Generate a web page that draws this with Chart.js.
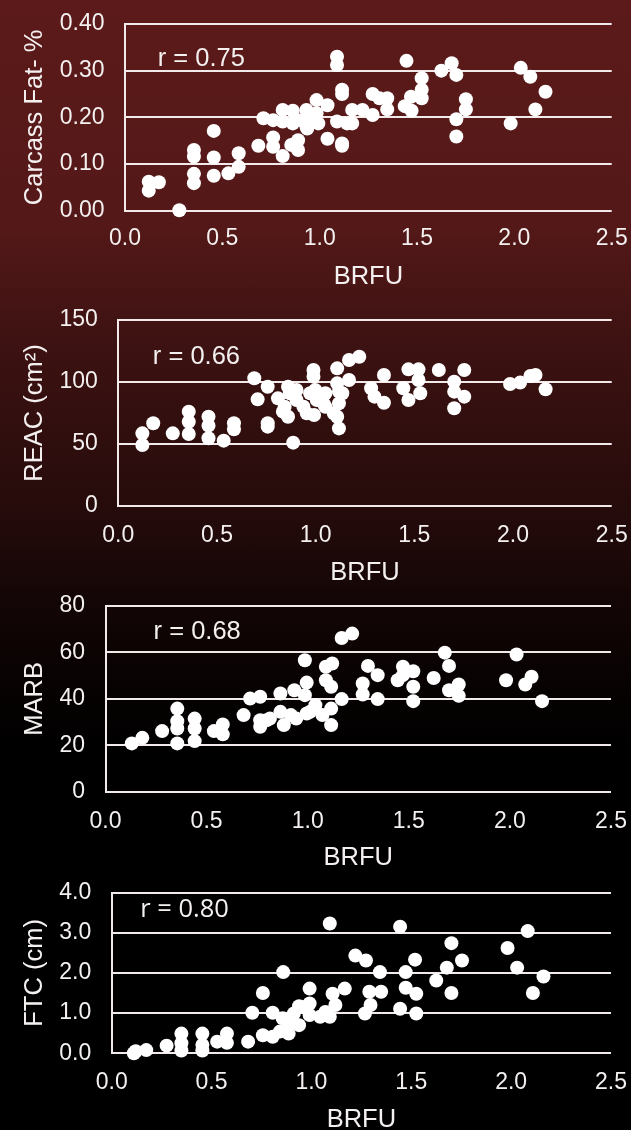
<!DOCTYPE html>
<html>
<head>
<meta charset="utf-8">
<script src="https://cdn.jsdelivr.net/npm/chart.js@4/dist/chart.umd.min.js"></script>
<style>
html,body{margin:0;padding:0;width:631px;height:1130px;overflow:hidden;}
body{position:relative;background:linear-gradient(to bottom,#5c1a1a 0%,#541818 20%,#3e1212 30%,#260b0b 45%,#140606 53%,#050101 62%,#000 67%,#000 100%);}
canvas{position:absolute;left:0;}
</style>
</head>
<body>
<canvas id="c1"></canvas>
<canvas id="c2"></canvas>
<canvas id="c3"></canvas>
<canvas id="c4"></canvas>
<script>
// ---------- DATA ----------
const xTickValues = [0, 0.5, 1.0, 1.5, 2.0, 2.5];

// Panel 1: Carcass Fat
const brfuFat = [0.122,0.174,0.122,0.279,0.354,0.354,0.354,0.354,0.456,0.456,
  0.456,0.531,0.584,0.584,0.685,0.711,0.761,0.761,0.761,0.810,
  0.810,0.810,0.862,0.854,0.889,0.889,0.862,0.932,0.932,0.941,
  0.984,0.984,0.993,1.040,1.040,1.089,1.089,1.115,1.115,1.089,
  1.115,1.115,1.141,1.167,1.167,1.220,1.272,1.272,1.307,1.347,
  1.347,1.446,1.437,1.469,1.472,1.524,1.524,1.524,1.625,1.678,
  1.702,1.702,1.702,1.751,1.751,1.981,2.033,2.082,2.108,2.160,
  0.906,0.958,0.936];
const carcassFat = [0.062,0.061,0.043,0.001,0.130,0.116,0.079,0.059,0.171,0.114,
  0.075,0.080,0.123,0.094,0.139,0.198,0.194,0.157,0.137,0.216,
  0.191,0.117,0.214,0.141,0.151,0.130,0.187,0.216,0.180,0.198,
  0.237,0.209,0.187,0.226,0.154,0.330,0.312,0.259,0.250,0.191,
  0.144,0.139,0.187,0.216,0.187,0.216,0.250,0.205,0.241,0.241,
  0.217,0.321,0.224,0.244,0.214,0.284,0.259,0.241,0.300,0.316,
  0.291,0.196,0.159,0.239,0.217,0.187,0.306,0.287,0.217,0.255,
  0.194,0.205,0.176];

// Panel 2: REAC
const brfuReac = [0.122,0.122,0.177,0.276,0.357,0.357,0.357,0.457,0.457,0.457,
  0.534,0.586,0.586,0.689,0.706,0.757,0.757,0.757,0.809,0.860,
  0.869,0.834,0.860,0.886,0.903,0.938,0.955,0.989,0.989,0.998,
  1.006,0.992,1.049,1.049,1.092,1.109,1.109,1.118,1.109,1.118,
  1.169,1.221,1.169,1.281,1.298,1.346,1.346,1.444,1.470,1.470,
  1.521,1.521,1.530,1.624,1.702,1.702,1.702,1.753,1.753,1.985,
  2.036,2.088,2.114,2.165,0.903,0.972,1.040,0.843,1.135,1.118];
const reac = [49.2,58.6,66.7,58.6,76.1,68.0,58.1,72.0,64.8,54.6,
  52.7,66.7,61.8,103.0,86.0,96.2,66.7,64.0,86.8,96.2,
  90.9,76.1,72.0,51.1,85.5,80.1,74.7,109.7,104.3,93.5,
  85.5,73.4,90.9,80.1,74.7,111.0,98.9,82.8,72.0,62.6,
  117.7,120.4,101.6,94.9,88.2,105.6,83.3,94.9,110.2,85.5,
  110.2,101.6,90.9,109.7,100.3,92.2,78.8,109.7,88.2,98.4,
  99.5,104.8,105.6,94.1,93.5,90.9,82.8,80.1,90.9,92.2];

// Panel 3: MARB
const brfuMarb = [0.130,0.182,0.280,0.355,0.355,0.355,0.355,0.441,0.441,0.441,
  0.536,0.580,0.580,0.683,0.715,0.765,0.765,0.765,0.813,0.865,
  0.865,0.882,0.934,0.943,0.986,0.995,0.986,0.995,1.038,1.090,
  1.121,1.090,1.116,1.116,1.116,1.168,1.168,1.220,1.272,1.272,
  1.298,1.346,1.346,1.445,1.471,1.522,1.522,1.522,1.623,1.678,
  1.699,1.699,1.747,1.747,1.981,2.033,2.076,2.107,2.159,
  0.796,0.917,1.012,1.073,1.471];
const marb = [20.8,23.2,26.1,35.8,30.4,27.2,20.8,31.5,27.2,21.8,
  26.1,29.0,24.7,33.0,40.1,40.9,30.8,28.0,31.5,42.3,
  34.4,28.7,43.7,31.5,56.6,47.0,41.6,33.7,37.3,53.8,
  55.2,48.0,45.2,35.8,28.7,39.9,66.2,68.1,41.9,46.6,
  54.2,50.2,39.9,48.0,53.8,51.9,45.2,39.0,49.0,59.9,
  54.2,43.7,46.2,41.3,48.0,59.1,46.2,49.5,39.0,
  30.8,33.0,34.4,33.0,50.2];

// Panel 4: FTC
const brfuFtc = [0.111,0.120,0.173,0.275,0.349,0.349,0.349,0.454,0.454,0.454,
  0.528,0.577,0.577,0.683,0.704,0.757,0.757,0.806,0.806,0.859,
  0.856,0.886,0.891,0.938,0.938,0.991,0.991,0.991,1.044,1.092,
  1.092,1.106,1.120,1.167,1.220,1.273,1.290,1.296,1.268,1.343,
  1.349,1.444,1.472,1.472,1.444,1.519,1.525,1.525,1.625,1.678,
  1.701,1.701,1.754,1.982,2.030,2.083,2.109,2.162,
  0.912,0.965,1.070,0.842];
const ftc = [0.00,0.05,0.08,0.19,0.49,0.25,0.07,0.49,0.21,0.07,
  0.29,0.49,0.26,0.29,1.01,1.50,0.45,1.01,0.41,2.02,
  0.87,0.49,0.74,1.17,0.70,1.61,1.24,0.95,0.91,3.23,
  0.91,1.48,1.20,1.61,2.43,2.31,1.53,1.20,0.99,2.02,
  1.53,3.15,2.02,1.63,1.11,2.33,1.48,0.99,1.81,2.13,
  2.74,1.50,2.31,2.62,2.13,3.04,1.50,1.91,
  0.99,1.15,1.03,0.54];

const yTitles = ['Carcass Fat- %', 'REAC (cm\u00B2)', 'MARB', 'FTC (cm)'];
const rTexts = ['r = 0.75', 'r = 0.66', 'r = 0.68', 'r = 0.80'];
const xTitle = 'BRFU';

// ---------- STYLE / LAYOUT ----------
const FONT = "'Liberation Sans', Arial, Helvetica, sans-serif";
const TEXT = '#f4f0f0';
const GRID = '#f2eaea';
const XAXIS_H = 82;
const TICK_SIZE = 23;

const panels = [
  {id:'c1', xs:brfuFat, ys:carcassFat, title:yTitles[0], r:rTexts[0], rFont:FONT,
   yMin:0, yMax:0.4, yStep:0.1, yDec:2, rx:0.168, ry:0.326,
   L:125, R:611.7, T:24, B:210.7, xPad:14},
  {id:'c2', xs:brfuReac, ys:reac, title:yTitles[1], r:rTexts[1], rFont:FONT,
   yMin:0, yMax:150, yStep:50, yDec:0, rx:0.175, ry:120.4,
   L:118.3, R:611.7, T:320, B:506, xPad:16},
  {id:'c3', xs:brfuMarb, ys:marb, title:yTitles[2], r:rTexts[2], rFont:FONT,
   yMin:0, yMax:80, yStep:20, yDec:0, rx:0.238, ry:68.8,
   L:105.5, R:611, T:606, B:791.7, xPad:16},
  {id:'c4', xs:brfuFtc, ys:ftc, title:yTitles[3], r:rTexts[3], rFont:"'Open Sans', " + FONT,
   yMin:0, yMax:4, yStep:1, yDec:1, rx:0.143, ry:3.565,
   L:111.7, R:611, T:892.5, B:1053.3, xPad:15.8}
];

const rLabelPlugin = {
  id: 'rLabel',
  afterDatasetsDraw(chart, args, opts) {
    if (!opts || !opts.text) return;
    const {ctx} = chart;
    const xs = chart.scales.x, ys = chart.scales.y;
    ctx.save();
    ctx.font = opts.font;
    ctx.fillStyle = opts.color;
    ctx.textAlign = 'left';
    ctx.textBaseline = 'middle';
    ctx.fillText(opts.text, xs.getPixelForValue(opts.x), ys.getPixelForValue(opts.y));
    ctx.restore();
  }
};

function makePanel(p) {
  const canvas = document.getElementById(p.id);
  const top = Math.floor(p.T) - 20;
  const height = Math.ceil(p.B - top + XAXIS_H);
  canvas.width = 631; canvas.height = height;
  canvas.style.top = top + 'px';
  canvas.style.width = '631px';
  canvas.style.height = height + 'px';
  const points = p.xs.map((v, i) => ({x: v, y: p.ys[i]}));
  new Chart(canvas, {
    type: 'scatter',
    data: {datasets: [{data: points, backgroundColor: '#ffffff', borderWidth: 0,
      pointRadius: 7, pointHoverRadius: 7, clip: false}]},
    options: {
      responsive: false, animation: false, devicePixelRatio: 1,
      layout: {padding: {top: p.T - top, left: 0, right: 631 - p.R,
        bottom: height - XAXIS_H - (p.B - top)}},
      plugins: {
        legend: {display: false}, tooltip: {enabled: false},
        rLabel: {text: p.r, x: p.rx, y: p.ry, color: TEXT, font: '25.5px ' + p.rFont}
      },
      scales: {
        x: {
          type: 'linear', min: 0, max: 2.5,
          afterBuildTicks(s) { s.ticks = xTickValues.map(v => ({value: v})); },
          ticks: {callback: v => Number(v).toFixed(1), color: TEXT,
            font: {family: FONT, size: TICK_SIZE}, padding: p.xPad, maxRotation: 0, autoSkip: false},
          grid: {display: false, drawTicks: false},
          border: {display: false},
          title: {display: true, text: xTitle, color: TEXT, font: {family: FONT, size: 25.5},
            padding: 0},
          afterFit(s) { s.height = XAXIS_H; s.paddingLeft = 0; s.paddingRight = 0; }
        },
        y: {
          type: 'linear', min: p.yMin, max: p.yMax,
          ticks: {stepSize: p.yStep, callback: v => Number(v).toFixed(p.yDec), color: TEXT,
            font: {family: FONT, size: TICK_SIZE}, padding: 20.5},
          grid: {color: GRID, lineWidth: 2, drawTicks: false},
          border: {display: true, color: GRID, width: 2},
          title: {display: true, text: p.title, color: TEXT, font: {family: FONT, size: 25.5},
            padding: {top: 19.7, bottom: 0}},
          afterFit(s) { s.width = p.L; s.paddingTop = 0; s.paddingBottom = 0; }
        }
      }
    },
    plugins: [rLabelPlugin]
  });
}

panels.forEach(makePanel);
</script>
</body>
</html>
